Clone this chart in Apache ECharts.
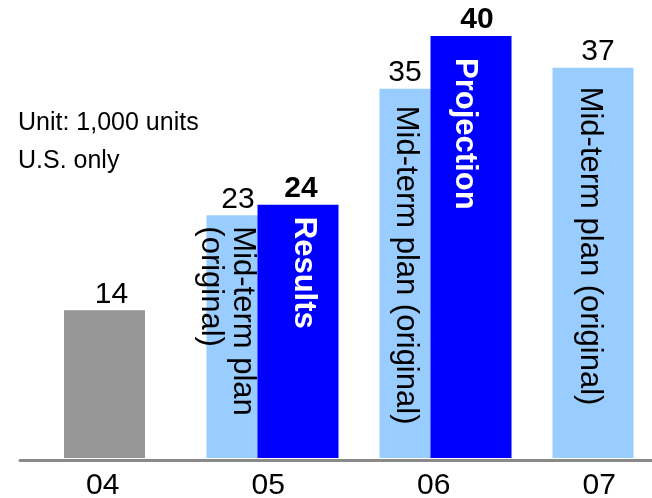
<!DOCTYPE html>
<html>
<head>
<meta charset="utf-8">
<script src="https://cdn.jsdelivr.net/npm/echarts@6/dist/echarts.min.js"></script>
<style>
  html, body { margin: 0; padding: 0; background: #ffffff; }
  #chart { width: 652px; height: 498px; }
</style>
</head>
<body>
<div id="chart"></div>
<script>
// Fiscal years on the category axis
const years = ['04', '05', '06', '07'];
// 2004 actual volume (thousand units)
const actual2004 = [14, null, null, null];
// Original mid-term plan targets
const planValues = [null, 23, 35, 37];
// Results (05) and projection (06)
const actualValues = [null, 24, 40, null];
// Text written inside the bars
const planNotes = ['', 'Mid-term plan\n(original)', 'Mid-term plan (original)', 'Mid-term plan (original)'];
const actualNotes = ['', 'Results', 'Projection', ''];
// Note at the upper left
const noteLines = ['Unit: 1,000 units', 'U.S. only'];

// ---- layout tweaks (pixels), kept apart from the data ----
const FONT = '"Liberation Sans", Arial, Helvetica, sans-serif';
const BAR_W = 81;
const BAR_GAP = '-37%';
const Y_MAX = 40;
const valueShift = { base: [7, 0, 0, 0], plan: [0, -9, -15, 5], actual: [0, 3, 6, 0] };
const planNoteShift = [0, -20, -14, -3];
const planNoteDist = [0, 11, 17, 19];
const actualNoteShift = [0, 6, -6, 0];
const actualNoteDist = [0, 12, 22, 0];

function valueData(values, shifts) {
  return values.map((v, i) => v == null ? null : {
    value: v,
    label: { offset: [shifts[i], 0] }
  });
}
// rotated labels: offset is expressed in the text's own (rotated) frame
function noteData(values, shifts, dists) {
  return values.map((v, i) => v == null ? null : {
    value: v,
    label: { offset: [0, -shifts[i]], distance: dists[i] }
  });
}

const chart = echarts.init(document.getElementById('chart'), null, { renderer: 'canvas' });

const valueLabel = {
  show: true, position: 'top', distance: 1,
  fontFamily: FONT, fontSize: 30, color: '#000000'
};

chart.setOption({
  animation: false,
  backgroundColor: '#ffffff',
  grid: [
    { left: 20, width: 662, top: 36, bottom: 38, outerBoundsMode: 'none' },
    { left: 13, width: 692, top: 36, bottom: 40, outerBoundsMode: 'none' },
    { left: 18, width: 692, top: 36, bottom: 40, outerBoundsMode: 'none' }
  ],
  xAxis: [
    {
      gridIndex: 0, type: 'category', data: years,
      axisLine: { show: true, lineStyle: { color: '#8a8a8a', width: 3 } },
      axisTick: { show: false },
      splitLine: { show: false },
      axisLabel: { fontFamily: FONT, fontSize: 30, color: '#000000', margin: 11 }
    },
    { gridIndex: 1, type: 'category', data: years, show: false },
    { gridIndex: 1, type: 'category', data: years, show: false },
    { gridIndex: 2, type: 'category', data: years, show: false }
  ],
  yAxis: [
    { gridIndex: 0, type: 'value', min: 0, max: Y_MAX, show: false, splitLine: { show: false } },
    { gridIndex: 1, type: 'value', min: 0, max: Y_MAX, show: false, splitLine: { show: false } },
    { gridIndex: 2, type: 'value', min: 0, max: Y_MAX, show: false, splitLine: { show: false } }
  ],
  graphic: [{
    type: 'text', left: 18, top: 104,
    style: {
      text: noteLines.join('\n'), fontFamily: FONT, fontSize: 25,
      lineHeight: 38, fill: '#000000'
    }
  }],
  series: [
    {
      name: 'Mid-term plan (original)', type: 'bar', xAxisIndex: 1, yAxisIndex: 1,
      barWidth: BAR_W, barGap: BAR_GAP,
      itemStyle: { color: '#99CCFF' },
      label: valueLabel,
      data: valueData(planValues, valueShift.plan)
    },
    {
      name: 'Results / Projection', type: 'bar', xAxisIndex: 1, yAxisIndex: 1,
      barWidth: BAR_W, barGap: BAR_GAP,
      itemStyle: { color: '#0000FF' },
      label: Object.assign({}, valueLabel, { fontWeight: 'bold' }),
      data: valueData(actualValues, valueShift.actual)
    },
    {
      name: 'plan note', type: 'bar', xAxisIndex: 2, yAxisIndex: 1,
      barWidth: BAR_W, barGap: BAR_GAP, silent: true,
      itemStyle: { color: 'rgba(0,0,0,0)' },
      label: {
        show: true, position: 'insideTop', rotate: -90,
        align: 'left', verticalAlign: 'middle',
        fontFamily: FONT, fontSize: 31, lineHeight: 32, color: '#000000',
        formatter: p => planNotes[p.dataIndex]
      },
      data: noteData(planValues, planNoteShift, planNoteDist)
    },
    {
      name: 'actual note', type: 'bar', xAxisIndex: 2, yAxisIndex: 1,
      barWidth: BAR_W, barGap: BAR_GAP, silent: true,
      itemStyle: { color: 'rgba(0,0,0,0)' },
      label: {
        show: true, position: 'insideTop', rotate: -90,
        align: 'left', verticalAlign: 'middle',
        fontFamily: FONT, fontSize: 31, fontWeight: 'bold', color: '#FFFFFF',
        formatter: p => actualNotes[p.dataIndex]
      },
      data: noteData(actualValues, actualNoteShift, actualNoteDist)
    },
    {
      name: '2004', type: 'bar', xAxisIndex: 3, yAxisIndex: 2,
      barWidth: BAR_W,
      itemStyle: { color: '#969696' },
      label: valueLabel,
      data: valueData(actual2004, valueShift.base)
    }
  ]
});
</script>
</body>
</html>
